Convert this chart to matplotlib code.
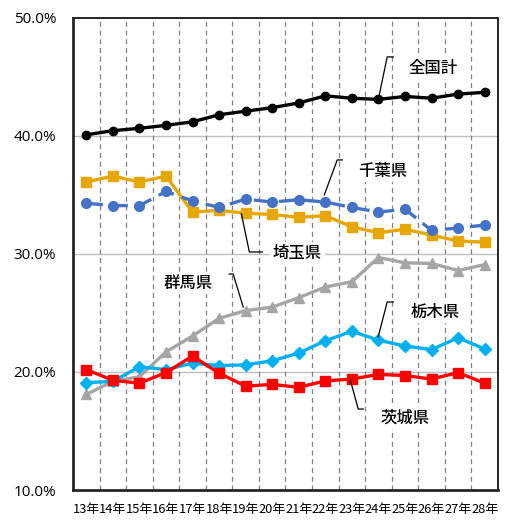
import matplotlib
matplotlib.use("Agg")
import matplotlib.pyplot as plt
from matplotlib.ticker import FuncFormatter

plt.rcParams['font.family'] = ['Noto Sans CJK JP', 'DejaVu Sans']

years = ["13年", "14年", "15年", "16年", "17年", "18年", "19年", "20年",
         "21年", "22年", "23年", "24年", "25年", "26年", "27年", "28年"]

zenkoku = [40.1, 40.45, 40.65, 40.9, 41.2, 41.8, 42.1, 42.4,
           42.8, 43.4, 43.2, 43.1, 43.35, 43.2, 43.55, 43.7]
chiba = [34.3, 34.1, 34.1, 35.3, 34.5, 33.95, 34.65, 34.4,
         34.6, 34.4, 33.95, 33.55, 33.8, 32.0, 32.2, 32.45]
saitama = [36.1, 36.6, 36.1, 36.6, 33.55, 33.7, 33.45, 33.35,
           33.1, 33.25, 32.3, 31.8, 32.1, 31.6, 31.1, 31.0]
gunma = [18.1, 19.2, 19.6, 21.7, 23.05, 24.55, 25.2, 25.5,
         26.3, 27.2, 27.65, 29.7, 29.25, 29.2, 28.6, 29.1]
tochigi = [19.1, 19.2, 20.45, 20.2, 20.75, 20.55, 20.6, 20.95,
           21.6, 22.65, 23.45, 22.7, 22.2, 21.9, 22.9, 21.95]
ibaraki = [20.2, 19.3, 19.05, 19.95, 21.35, 19.9, 18.8, 18.95,
           18.7, 19.25, 19.4, 19.8, 19.7, 19.4, 19.95, 19.05]

y_ticks = [10, 20, 30, 40, 50]

fig = plt.figure(figsize=(5.05, 5.21), dpi=100)
ax = fig.add_axes([0.1446, 0.0595, 0.8414, 0.906])

x = list(range(len(years)))

# background grid: solid horizontal, dashed vertical between categories
for yv in y_ticks[1:-1]:
    ax.axhline(yv, color="#BFBFBF", lw=1.0, zorder=0)
for i in range(len(years) - 1):
    ax.axvline(i + 0.5, color="#808080", lw=0.9, ls=(0, (4, 3)), zorder=0)

ax.plot(x, gunma, color="#A5A5A5", lw=2.4, marker="^", ms=7.5, zorder=3)
ax.plot(x, tochigi, color="#00B0F0", lw=2.4, marker="D", ms=5.8, zorder=4)
ax.plot(x, ibaraki, color="#FF0000", lw=2.4, marker="s", ms=6.8, zorder=5)
ax.plot(x, saitama, color="#E6A800", lw=2.4, marker="s", ms=6.8, zorder=3)
ax.plot(x, chiba, color="#4472C4", lw=2.4, ls=(0, (5, 2.5)), marker="o",
        ms=7, zorder=4)
ax.plot(x, zenkoku, color="black", lw=2.4, marker="o", ms=6, zorder=5)

# series labels with leader lines
labels = [
    ("全国計", (13.06, 45.75), [(11.0, 43.14), (11.33, 46.7), (11.56, 46.7)]),
    ("千葉県", (11.18, 37.03), [(8.96, 35.0), (9.45, 37.97), (9.64, 37.97)]),
    ("埼玉県", (7.94, 30.08), [(5.84, 33.4), (6.14, 30.17), (6.63, 30.17)]),
    ("群馬県", (3.84, 27.54), [(5.38, 28.3), (5.53, 28.3), (5.91, 25.5)]),
    ("栃木県", (13.14, 25.08), [(10.99, 22.97), (11.33, 25.93), (11.56, 25.93)]),
    ("茨城県", (12.01, 16.1), [(9.94, 19.32), (10.24, 16.86), (10.43, 16.86)]),
]
for text, (tx, ty), pts in labels:
    xs, ys = zip(*pts)
    ax.plot(xs, ys, color="black", lw=0.9, zorder=6)
    ax.text(tx, ty, text, ha="center", va="center", fontsize=11.8,
            fontweight="medium", zorder=7,
            bbox=dict(facecolor="white", edgecolor="none", pad=2))

ax.set_xlim(-0.5, len(years) - 0.5)
ax.set_ylim(10, 50)
ax.set_yticks(y_ticks)
ax.yaxis.set_major_formatter(FuncFormatter(lambda v, p: f"{v:.1f}%"))
ax.set_xticks(x)
ax.set_xticklabels(years)
ax.tick_params(axis="x", length=0, labelsize=9.3, pad=9)
ax.tick_params(axis="y", length=0, labelsize=11, pad=12)
for lab in ax.get_yticklabels():
    lab.set_fontfamily(["Open Sans", "DejaVu Sans"])

for side in ["left", "bottom"]:
    ax.spines[side].set_linewidth(2.0)
    ax.spines[side].set_color("#262626")
for side in ["top", "right"]:
    ax.spines[side].set_linewidth(1.4)
    ax.spines[side].set_color("#262626")

fig.savefig("out.png", dpi=100)
